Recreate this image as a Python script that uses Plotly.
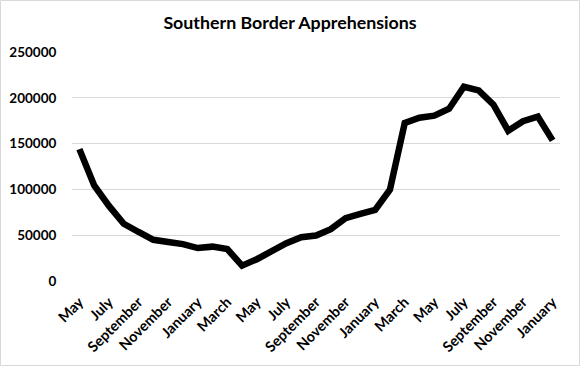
import plotly.graph_objects as go

title_text = "Southern Border Apprehensions"
months = ["May", "June", "July", "August", "September", "October", "November", "December",
          "January", "February", "March", "April", "May", "June", "July", "August",
          "September", "October", "November", "December", "January", "February", "March", "April",
          "May", "June", "July", "August", "September", "October", "November", "December", "January"]
apprehensions = [144000, 104300, 82000, 62500, 53500, 45000, 42500, 40300,
                 36000, 37500, 34800, 16800, 23800, 33200, 41300, 47800,
                 49700, 56600, 68600, 73200, 77600, 99800, 172500, 178300,
                 180500, 188000, 212000, 208000, 192500, 164000, 174500, 179500, 153500]
y_ticks = [0, 50000, 100000, 150000, 200000, 250000]

idx = list(range(len(months)))
tick_idx = idx[::2]
tick_txt = [months[i] for i in tick_idx]

W, H = 580, 366
L, R, T, B = 72, 20, 52, 85
pw, ph = W - L - R, H - T - B

fig = go.Figure()
fig.add_trace(go.Scatter(x=idx, y=apprehensions, mode="lines",
                         line=dict(color="black", width=6.5), hoverinfo="skip"))

font_fam = "Lato"
fig.update_layout(
    width=W, height=H,
    margin=dict(l=L, r=R, t=T, b=B, pad=0, autoexpand=False),
    paper_bgcolor="white", plot_bgcolor="white",
    showlegend=False,
    title=dict(text=title_text, x=0.5, xref="container", xanchor="center",
               y=1 - 23 / H, yref="container", yanchor="middle",
               font=dict(family=font_fam, size=17.8, color="black", weight="bold")),
    xaxis=dict(range=[-0.5, len(months) - 0.5], tickmode="array", tickvals=tick_idx,
               ticktext=tick_txt, tickangle=-45, showgrid=False, zeroline=False,
               showline=False, ticks="outside", ticklen=6, tickcolor="rgba(0,0,0,0)",
               tickfont=dict(family=font_fam, size=14.5, color="black", weight="bold"),
               automargin=False, fixedrange=True),
    yaxis=dict(range=[0, 250000], tickmode="array", tickvals=y_ticks, tickformat="d",
               showgrid=True, gridcolor="#d9d9d9", gridwidth=1, zeroline=False,
               showline=False, ticks="outside", ticklen=12, tickcolor="rgba(0,0,0,0)",
               tickfont=dict(family=font_fam, size=13.5, color="black", weight="bold"),
               automargin=False, fixedrange=True),
    shapes=[dict(type="rect", xref="paper", yref="paper",
                 x0=(0.5 - L) / pw, x1=(W - 0.5 - L) / pw,
                 y0=(H - B - (H - 0.5)) / ph, y1=(H - B - 0.5) / ph,
                 line=dict(color="#d9d9d9", width=1), fillcolor="rgba(0,0,0,0)",
                 layer="below")],
)

fig.write_html("out.html", config={"displayModeBar": False},
               post_script="document.body.style.margin='0';document.body.style.overflow='hidden';")
